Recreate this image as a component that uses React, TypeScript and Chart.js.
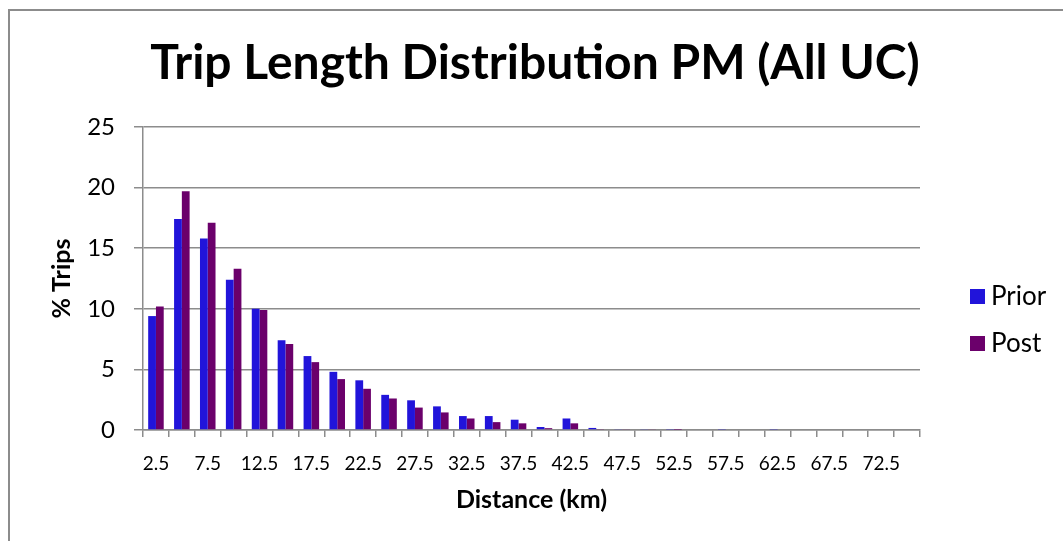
import { useEffect, useRef } from 'react';
import { Chart, registerables } from 'chart.js';

Chart.register(...registerables);

const categories = ['2.5', '5', '7.5', '10', '12.5', '15', '17.5', '20', '22.5', '25', '27.5', '30', '32.5', '35', '37.5', '40', '42.5', '45', '47.5', '50', '52.5', '55', '57.5', '60', '62.5', '65', '67.5', '70', '72.5', '75'];
const priorValues = [9.4, 17.4, 15.8, 12.4, 10.0, 7.4, 6.1, 4.8, 4.1, 2.9, 2.45, 1.95, 1.15, 1.15, 0.85, 0.25, 0.95, 0.17, 0.05, 0.05, 0.04, 0, 0.04, 0, 0.04, 0, 0, 0, 0, 0];
const postValues = [10.2, 19.7, 17.1, 13.3, 9.9, 7.1, 5.6, 4.2, 3.4, 2.6, 1.85, 1.45, 0.95, 0.65, 0.55, 0.15, 0.55, 0.08, 0.05, 0.05, 0.02, 0, 0, 0, 0, 0, 0, 0, 0, 0];
const yMin = 0;
const yMax = 25;
const yStep = 5;
const seriesNames = ['Prior', 'Post'];
const seriesColors = ['#2114DA', '#6B006B'];
const chartTitle = 'Trip Length Distribution PM (All UC)';
const xTitle = 'Distance (km)';
const yTitle = '% Trips';

const GRID = '#8c8c8c';
const FONT = 'Lato, "Noto Sans", sans-serif';

const overlayPlugin = {
  id: 'overlayTitleLegend',
  afterDraw(chart: any) {
    const ctx = chart.ctx as CanvasRenderingContext2D;
    ctx.save();
    ctx.fillStyle = '#000';
    ctx.font = `bold 48px ${FONT}`;
    ctx.textAlign = 'center';
    ctx.textBaseline = 'alphabetic';
    ctx.fillText(chartTitle, 535, 79);

    ctx.font = `26px ${FONT}`;
    ctx.textAlign = 'left';
    ctx.textBaseline = 'middle';
    chart.data.datasets.forEach((ds: any, i: number) => {
      const cy = 296 + i * 47;
      ctx.fillStyle = ds.backgroundColor;
      ctx.fillRect(970, cy - 7, 15, 15);
      ctx.fillStyle = '#000';
      ctx.fillText(ds.label, 991, cy + 1);
    });
    ctx.restore();
  },
};

export default function App() {
  const ref = useRef<HTMLCanvasElement | null>(null);

  useEffect(() => {
    if (!ref.current) return;
    const chart = new Chart(ref.current, {
      type: 'bar',
      data: {
        labels: categories,
        datasets: [
          { label: seriesNames[0], data: priorValues, backgroundColor: seriesColors[0], borderWidth: 0 },
          { label: seriesNames[1], data: postValues, backgroundColor: seriesColors[1], borderWidth: 0 },
        ],
      },
      options: {
        responsive: false,
        animation: false,
        events: [],
        layout: { padding: { left: 0, right: 143, top: 127, bottom: 0 } },
        datasets: { bar: { categoryPercentage: 0.6, barPercentage: 1.0 } },
        plugins: {
          legend: { display: false },
          title: { display: false },
          tooltip: { enabled: false },
        },
        scales: {
          x: {
            type: 'category',
            grid: { offset: true, drawOnChartArea: false, drawTicks: true, tickLength: 7, color: GRID, lineWidth: 1.5 },
            border: { color: GRID, width: 1.5 },
            ticks: {
              autoSkip: false,
              maxRotation: 0,
              minRotation: 0,
              color: '#000',
              font: { family: FONT, size: 19 },
              padding: 15,
              callback: (_v: any, i: number) => (i % 2 === 0 ? categories[i] : ''),
            },
            title: {
              display: true,
              text: xTitle,
              color: '#000',
              font: { family: FONT, size: 25, weight: 'bold' },
              padding: { top: 0, bottom: 26 },
            },
            afterFit: (scale: any) => { scale.height = 111; },
          },
          y: {
            min: yMin,
            max: yMax,
            grid: { color: GRID, lineWidth: 1.5, tickLength: 9 },
            border: { color: GRID, width: 1.5 },
            ticks: {
              stepSize: yStep,
              color: '#000',
              font: { family: FONT, size: 24 },
              padding: 19,
            },
            title: {
              display: true,
              text: yTitle,
              color: '#000',
              font: { family: FONT, size: 25, weight: 'bold' },
              padding: { top: 47, bottom: 0 },
            },
            afterFit: (scale: any) => { scale.width = 143; },
          },
        },
      },
      plugins: [overlayPlugin],
    } as any);
    return () => chart.destroy();
  }, []);

  return (
    <div style={{ position: 'fixed', left: 0, top: 0, width: 1063, height: 541, background: '#fff', overflow: 'hidden' }}>
      <canvas ref={ref} width={1063} height={541} style={{ display: 'block' }} />
      <div
        style={{
          position: 'absolute',
          left: 8,
          top: 9,
          width: 1200,
          height: 700,
          borderLeft: '2px solid #8c8c8c',
          borderTop: '2px solid #8c8c8c',
          pointerEvents: 'none',
        }}
      />
    </div>
  );
}
